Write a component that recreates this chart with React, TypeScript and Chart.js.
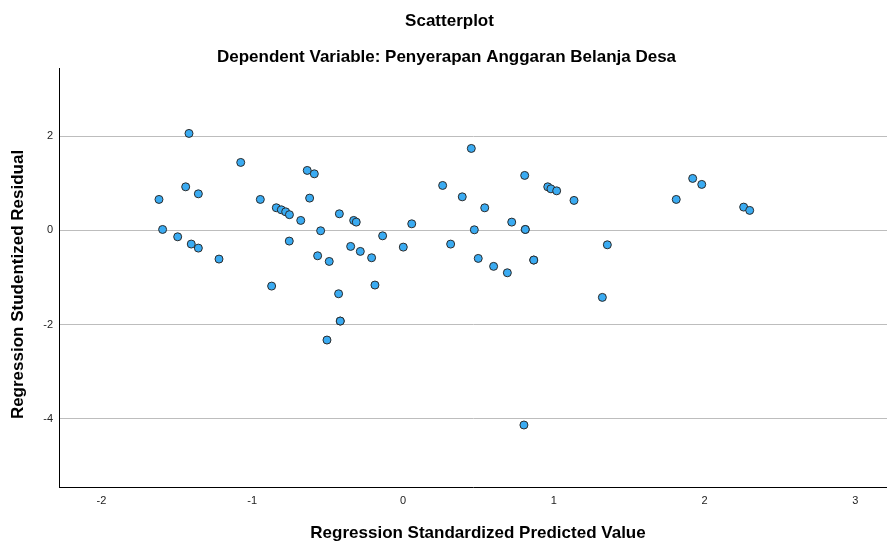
import React, { useEffect, useRef } from "react";
import { Chart, registerables } from "chart.js";

Chart.register(...registerables);

// Regression Standardized Predicted Value (x)
const predicted: number[] = [
  -1.618, -1.594, -1.494, -1.419, -1.441, -1.404, -1.357, -1.357, -1.22, -1.076,
  -0.946, -0.84, -0.807, -0.778, -0.753, -0.754, -0.678, -0.635, -0.588, -0.619,
  -0.546, -0.566, -0.489, -0.422, -0.347, -0.327, -0.31, -0.283, -0.208, -0.135,
  0.002, 0.058, 0.263, 0.316, 0.393, 0.453, 0.473, 0.499, 0.542, 0.601,
  0.692, 0.721, 0.807, 0.811, 0.811, 0.867, 0.867, 0.96, 0.981, 1.019,
  1.134, 1.812, 1.921, 1.981, 2.259, 2.299, 1.355, -0.871, -0.186, -0.427,
  -0.416, -0.416, -0.504, 1.322, 0.802,
];

// Regression Studentized Residual (y)
const residual: number[] = [
  0.658, 0.02, -0.136, 2.06, 0.926, -0.29, 0.777, -0.376, -0.609, 1.444,
  0.658, 0.481, 0.438, 0.395, 0.334, -0.227, 0.212, 1.274, 1.202, 0.686,
  -0.008, -0.539, -0.659, 0.353, -0.34, 0.212, 0.176, -0.446, -0.581, -0.115,
  -0.355, 0.14, 0.955, -0.291, 0.713, 1.741, 0.013, -0.595, 0.48, -0.764,
  -0.9, 0.176, 1.168, 0.02, 0.02, -0.63, -0.63, 0.926, 0.883, 0.841,
  0.637, 0.658, 1.104, 0.977, 0.495, 0.425, -0.306, -1.183, -1.161, -1.346,
  -1.926, -1.926, -2.329, -1.423, -4.134,
];

const xTicks: number[] = [-2, -1, 0, 1, 2, 3];
const yTicks: number[] = [-4, -2, 0, 2];

const titleText = "Scatterplot";
const subtitleText = "Dependent Variable: Penyerapan Anggaran Belanja Desa";
const xTitle = "Regression Standardized Predicted Value";
const yTitle = "Regression Studentized Residual";

const FONT = "'Liberation Sans', Arial, sans-serif";

const textPlugin = {
  id: "spssText",
  afterDraw(chart: any) {
    const ctx = chart.ctx as CanvasRenderingContext2D;
    const area = chart.chartArea;
    ctx.save();
    ctx.fillStyle = "#000";
    ctx.textAlign = "center";
    ctx.textBaseline = "middle";
    ctx.font = `bold 17px ${FONT}`;
    const cx = chart.width / 2;
    ctx.fillText(titleText, cx + 6, 21);
    ctx.fillText(subtitleText, cx + 3, 57);
    ctx.fillText(xTitle, (area.left + area.right) / 2 + 5, 533);
    ctx.translate(18.5, (area.top + area.bottom) / 2 + 7);
    ctx.rotate(-Math.PI / 2);
    ctx.fillText(yTitle, 0, 0);
    ctx.restore();
  },
};

export default function App() {
  const ref = useRef<HTMLCanvasElement | null>(null);

  useEffect(() => {
    document.body.style.margin = "0";
    if (!ref.current) return;
    const points = predicted.map((x, i) => ({ x, y: residual[i] }));
    const chart = new Chart(ref.current, {
      type: "scatter",
      data: {
        datasets: [
          {
            data: points,
            backgroundColor: "#3aabf2",
            borderColor: "#2b2b2b",
            borderWidth: 1,
            pointRadius: 4,
            pointHoverRadius: 4,
          },
        ],
      },
      options: {
        responsive: false,
        animation: false,
        layout: { autoPadding: false, padding: { top: 68, left: 0, right: 0, bottom: 0 } },
        plugins: {
          legend: { display: false },
          tooltip: { enabled: false },
          title: { display: false },
        },
        scales: {
          x: {
            type: "linear",
            min: -2.281,
            max: 3.2095,
            afterBuildTicks: (s: any) => {
              s.ticks = xTicks.map((v) => ({ value: v }));
            },
            afterFit: (s: any) => {
              s.height = 59;
            },
            grid: { display: false, drawTicks: false },
            border: { display: true, color: "#000", width: 1 },
            ticks: {
              padding: 7.5,
              color: "#222",
              font: { family: FONT, size: 11 },
              callback: (v: any) => String(v),
            },
          },
          y: {
            type: "linear",
            min: -5.451,
            max: 3.45,
            afterBuildTicks: (s: any) => {
              s.ticks = yTicks.map((v) => ({ value: v }));
            },
            afterFit: (s: any) => {
              s.width = 59;
            },
            grid: { display: true, color: "#bdbdbd", lineWidth: 1, drawTicks: false },
            border: { display: true, color: "#000", width: 1 },
            ticks: {
              padding: 6,
              color: "#222",
              font: { family: FONT, size: 11 },
              callback: (v: any) => String(v),
            },
          },
        },
      },
      plugins: [textPlugin],
    });
    return () => chart.destroy();
  }, []);

  return (
    <div style={{ width: 887, height: 546, background: "#fff" }}>
      <canvas ref={ref} width={887} height={546} style={{ display: "block" }} />
    </div>
  );
}
